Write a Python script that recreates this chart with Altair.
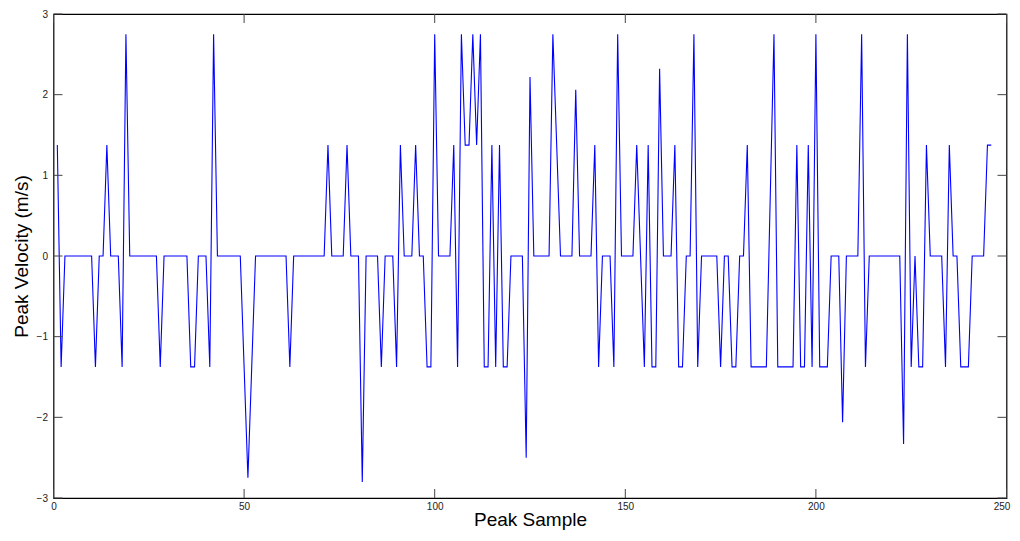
import altair as alt
import pandas as pd

# sample indices 1..246
samples = list(range(1, 247))

velocity = [
    1.375, -1.375, 0, 0, 0, 0, 0, 0, 0, 0,            # 1-10
    -1.375, 0, 0, 1.375, 0, 0, 0, -1.375, 2.75, 0,    # 11-20
    0, 0, 0, 0, 0, 0, 0, -1.375, 0, 0,                # 21-30
    0, 0, 0, 0, 0, -1.375, -1.375, 0, 0, 0,           # 31-40
    -1.375, 2.75, 0, 0, 0, 0, 0, 0, 0, -1.375,        # 41-50
    -2.75, -1.375, 0, 0, 0, 0, 0, 0, 0, 0,            # 51-60
    0, -1.375, 0, 0, 0, 0, 0, 0, 0, 0,                # 61-70
    0, 1.375, 0, 0, 0, 0, 1.375, 0, 0, 0,             # 71-80
    -2.8, 0, 0, 0, 0, -1.375, 0, 0, 0, -1.375,        # 81-90
    1.375, 0, 0, 0, 1.375, 0, 0, -1.375, -1.375, 2.75,  # 91-100
    0, 0, 0, 0, 1.375, -1.375, 2.75, 1.375, 1.375, 2.75,  # 101-110
    1.375, 2.75, -1.375, -1.375, 1.375, -1.375, 1.375, -1.375, -1.375, 0,  # 111-120
    0, 0, 0, -2.5, 2.22, 0, 0, 0, 0, 0,               # 121-130
    2.75, 1.375, 0, 0, 0, 0, 2.06, 0, 0, 0,           # 131-140
    0, 1.375, -1.375, 0, 0, 0, -1.375, 2.75, 0, 0,    # 141-150
    0, 0, 1.375, 0, -1.375, 1.375, -1.375, -1.375, 2.32, 0,  # 151-160
    0, 0, 1.375, -1.375, -1.375, 0, 0, 2.75, -1.375, 0,  # 161-170
    0, 0, 0, 0, -1.375, 0, 0, -1.375, -1.375, 0,      # 171-180
    0, 1.375, -1.375, -1.375, -1.375, -1.375, -1.375, 0.6875, 2.75, -1.375,  # 181-190
    -1.375, -1.375, -1.375, -1.375, 1.375, -1.375, -1.375, 1.375, -1.375, 2.75,  # 191-200
    -1.375, -1.375, -1.375, 0, 0, 0, -2.06, 0, 0, 0,  # 201-210
    0, 2.75, -1.375, 0, 0, 0, 0, 0, 0, 0,             # 211-220
    0, 0, -2.33, 2.75, -1.375, 0, -1.375, -1.375, 1.375, 0,  # 221-230
    0, 0, 0, -1.375, 1.375, 0, 0, -1.375, -1.375, -1.375,  # 231-240
    0, 0, 0, 0, 1.375, 1.375,                         # 241-246
]

x_ticks = [0, 50, 100, 150, 200, 250]
y_ticks = [-3, -2, -1, 0, 1, 2, 3]

W, H = 953, 484
TICK = 9
TICK_COLOR = "#444444"
FONT = "Liberation Sans"

df = pd.DataFrame({"sample": samples, "velocity": velocity})
xt = pd.DataFrame({"sample": x_ticks})
yt = pd.DataFrame({"velocity": y_ticks})

xscale = alt.Scale(domain=[0, 250], nice=False, zero=False)
yscale = alt.Scale(domain=[-3, 3], nice=False, zero=False)

xaxis = alt.Axis(
    values=x_ticks, ticks=False, domain=False, grid=False,
    labelFontSize=10, labelPadding=3, labelFlush=False, labelColor="#222222",
    labelOffset={"condition": {"test": "datum.value == 250", "value": -5}, "value": 0},
    title="Peak Sample", titleFontSize=19, titleFontWeight="normal",
    titlePadding=-1, titleColor="#000000",
)
yaxis = alt.Axis(
    values=y_ticks, ticks=False, domain=False, grid=False,
    labelFontSize=10, labelPadding=6, labelFlush=False, labelColor="#222222",
    title="Peak Velocity (m/s)", titleFontSize=19, titleFontWeight="normal",
    titlePadding=5, titleColor="#000000",
)

line = alt.Chart(df).mark_line(color="#0000ff", strokeWidth=1.1, interpolate="linear").encode(
    x=alt.X("sample:Q", scale=xscale, axis=xaxis),
    y=alt.Y("velocity:Q", scale=yscale, axis=yaxis),
)

bottom_ticks = alt.Chart(xt).mark_rule(color=TICK_COLOR, strokeWidth=1).encode(
    x=alt.X("sample:Q", scale=xscale, axis=xaxis),
    y=alt.value(H), y2=alt.value(H - TICK),
)
top_ticks = alt.Chart(xt).mark_rule(color=TICK_COLOR, strokeWidth=1).encode(
    x=alt.X("sample:Q", scale=xscale, axis=xaxis),
    y=alt.value(0), y2=alt.value(TICK),
)
left_ticks = alt.Chart(yt).mark_rule(color=TICK_COLOR, strokeWidth=1).encode(
    y=alt.Y("velocity:Q", scale=yscale, axis=yaxis),
    x=alt.value(0), x2=alt.value(TICK),
)
right_ticks = alt.Chart(yt).mark_rule(color=TICK_COLOR, strokeWidth=1).encode(
    y=alt.Y("velocity:Q", scale=yscale, axis=yaxis),
    x=alt.value(W), x2=alt.value(W - TICK),
)

chart = (
    alt.layer(line, bottom_ticks, top_ticks, left_ticks, right_ticks)
    .properties(
        width=W, height=H,
        autosize=alt.AutoSizeParams(type="none"),
        padding={"left": 45.5, "top": 6, "right": 5, "bottom": 35},
        background="white",
    )
    .configure(font=FONT)
    .configure_view(stroke="#000000", strokeWidth=1.2)
)

chart.save("out.html", embed_options={"renderer": "svg", "actions": False})
